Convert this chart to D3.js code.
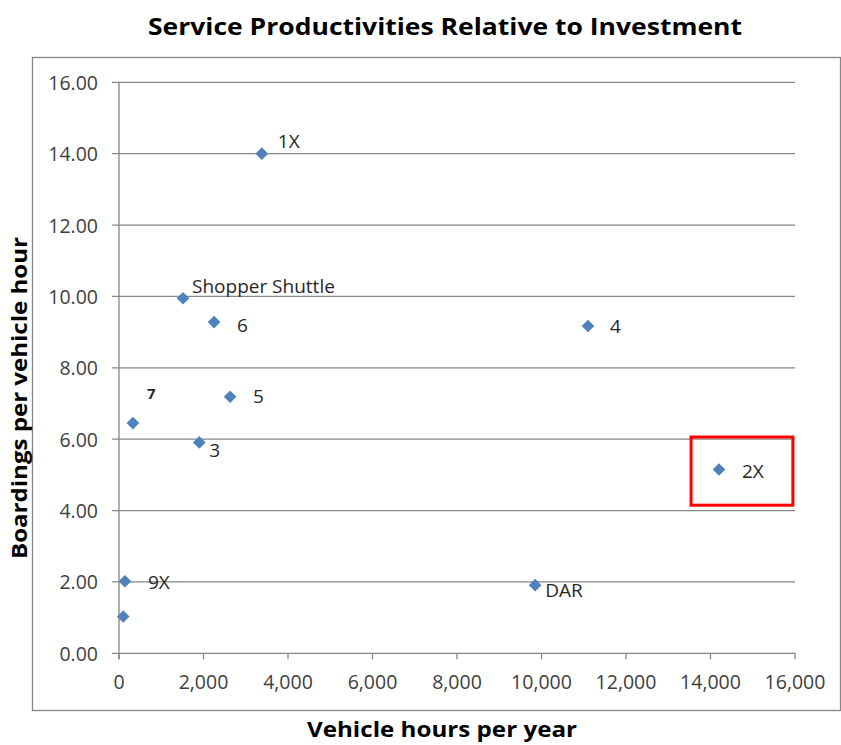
<!DOCTYPE html>
<html>
<head>
<meta charset="utf-8">
<script src="https://cdn.jsdelivr.net/npm/d3@7"></script>
<style>
  html, body { margin: 0; padding: 0; background: #fff; }
  svg { display: block; }
</style>
</head>
<body>
<svg id="chart" width="841" height="745"></svg>
<script>
// ---- data ----
const labels = ["1X", "Shopper Shuttle", "6", "4", "7", "5", "3", "2X", "9X", "", "DAR"];
const hoursPerYear = [3380, 1515, 2250, 11100, 330, 2630, 1900, 14200, 140, 100, 9850];
const boardingsPerHour = [14.00, 9.95, 9.28, 9.17, 6.45, 7.19, 5.91, 5.15, 2.02, 1.03, 1.91];
const xTicks = [0, 2000, 4000, 6000, 8000, 10000, 12000, 14000, 16000];
const yTicks = [0, 2, 4, 6, 8, 10, 12, 14, 16];
const highlightX = [13540, 15950];
const highlightY = [4.15, 6.06];
const titleText = "Service Productivities Relative to Investment";
const xTitle = "Vehicle hours per year";
const yTitle = "Boardings per vehicle hour";

// label offsets (layout/style, not data): [dx, dy, bold]
const labelOffset = {
  "1X": [16, -6, false], "Shopper Shuttle": [9, -5, false], "6": [23, 10, false],
  "4": [22, 7, false], "7": [14, -24, true], "5": [23, 6, false], "3": [10, 15, false],
  "2X": [23, 8, false], "9X": [23, 8, false], "DAR": [10, 12, false], "": [0, 0, false]
};

const svg = d3.select("#chart");
const font = "'Open Sans', sans-serif";
const gridColor = "#868686";

const x = d3.scaleLinear().domain([0, 16000]).range([119, 795]);
const y = d3.scaleLinear().domain([0, 16]).range([653.3, 82.3]);

// outer frame
svg.append("rect").attr("x", 32.5).attr("y", 57.5).attr("width", 808).attr("height", 653)
  .attr("fill", "none").attr("stroke", gridColor).attr("stroke-width", 1.3);

// title
svg.append("text").attr("x", 445).attr("y", 35).attr("text-anchor", "middle")
  .attr("font-family", font).attr("font-weight", "bold")
  .attr("font-size", 23).attr("textLength", 594).attr("lengthAdjust", "spacingAndGlyphs")
  .attr("fill", "#000").text(titleText);

// gridlines
svg.append("g").selectAll("line").data(yTicks).join("line")
  .attr("x1", 112).attr("x2", x(16000))
  .attr("y1", d => y(d)).attr("y2", d => y(d))
  .attr("stroke", gridColor).attr("stroke-width", 1.3);

// y axis line
svg.append("line").attr("x1", x(0)).attr("x2", x(0)).attr("y1", y(16)).attr("y2", y(0) + 6)
  .attr("stroke", gridColor).attr("stroke-width", 1.3);

// x ticks
svg.append("g").selectAll("line").data(xTicks).join("line")
  .attr("x1", d => x(d)).attr("x2", d => x(d)).attr("y1", y(0)).attr("y2", y(0) + 6)
  .attr("stroke", gridColor).attr("stroke-width", 1.3);

const fmtX = d3.format(",");
svg.append("g").selectAll("text").data(xTicks).join("text")
  .attr("x", d => x(d)).attr("y", 689).attr("text-anchor", "middle")
  .attr("font-family", font).attr("font-size", 19.5)
  .attr("fill", "#404040").text(d => fmtX(d));

svg.append("g").selectAll("text").data(yTicks).join("text")
  .attr("x", 98).attr("y", d => y(d) + 7.5).attr("text-anchor", "end")
  .attr("font-family", font).attr("font-size", 19.5)
  .attr("fill", "#404040").text(d => d3.format(".2f")(d));

// axis titles
svg.append("text").attr("x", 442).attr("y", 737).attr("text-anchor", "middle")
  .attr("font-family", font).attr("font-weight", "bold")
  .attr("font-size", 21).attr("textLength", 270).attr("lengthAdjust", "spacingAndGlyphs")
  .text(xTitle);
svg.append("text").attr("transform", "translate(27,398) rotate(-90)").attr("text-anchor", "middle")
  .attr("font-family", font).attr("font-weight", "bold")
  .attr("font-size", 21).attr("textLength", 322).attr("lengthAdjust", "spacingAndGlyphs")
  .text(yTitle);

// highlight box
svg.append("rect")
  .attr("x", x(highlightX[0])).attr("y", y(highlightY[1]))
  .attr("width", x(highlightX[1]) - x(highlightX[0]))
  .attr("height", y(highlightY[0]) - y(highlightY[1]))
  .attr("fill", "none").attr("stroke", "#ff0000").attr("stroke-width", 3);

// points
const pts = labels.map((l, i) => ({ label: l, x: hoursPerYear[i], y: boardingsPerHour[i] }));
const diamond = d3.symbol().type(d3.symbolSquare).size(80);
svg.append("g").selectAll("path").data(pts).join("path")
  .attr("d", diamond)
  .attr("transform", d => `translate(${x(d.x)},${y(d.y)}) rotate(45)`)
  .attr("fill", "#4F81BD");

// labels
svg.append("g").selectAll("text").data(pts.filter(d => d.label)).join("text")
  .attr("x", d => x(d.x) + labelOffset[d.label][0])
  .attr("y", d => y(d.y) + labelOffset[d.label][1])
  .attr("font-family", font)
  .attr("font-size", d => labelOffset[d.label][2] ? 15 : 19)
  .attr("font-weight", d => labelOffset[d.label][2] ? "bold" : "normal")
  .attr("fill", "#262626").text(d => d.label);
</script>
</body>
</html>
